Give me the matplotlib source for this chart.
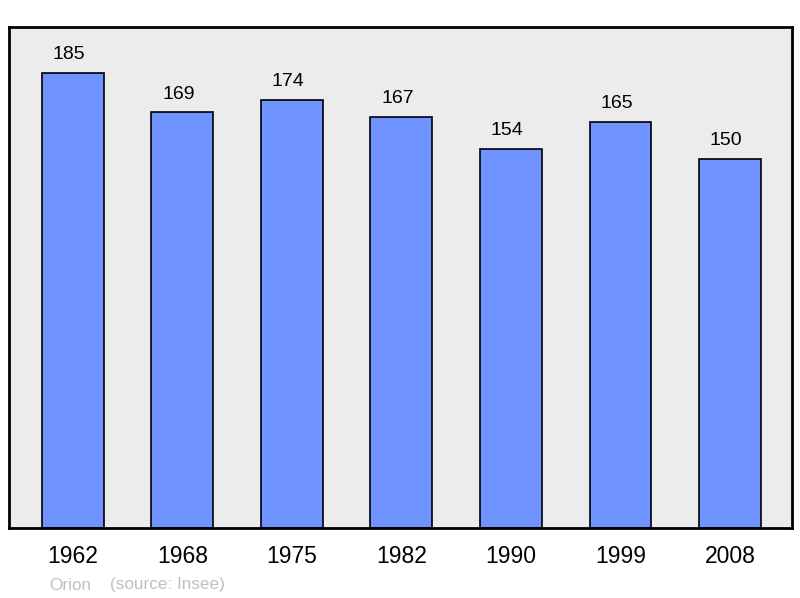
import matplotlib
matplotlib.use('Agg')
import matplotlib.pyplot as plt

plt.rcParams['font.family'] = ['Liberation Sans', 'DejaVu Sans']

# Données
annees = ['1962', '1968', '1975', '1982', '1990', '1999', '2008']
population = [185, 169, 174, 167, 154, 165, 150]

fig = plt.figure(figsize=(8, 5.98), dpi=100)
ax = fig.add_axes([0.01125, 0.117, 0.97875, 0.838])
ax.set_facecolor('#ececec')

x = range(len(annees))
ax.bar(x, population, width=0.566, color='#7094ff', edgecolor='black', linewidth=1.2, zorder=2)

# valeurs au-dessus des barres
for xi, v in zip(x, population):
    ax.annotate(str(v), (xi, v), xytext=(-3, 7), textcoords='offset points',
                ha='center', va='bottom', fontsize=14)

ax.set_xlim(-0.584, 6.566)
ax.set_ylim(0, 203.7)
ax.set_yticks([])
ax.set_xticks(list(x))
ax.set_xticklabels(annees, fontsize=16.5)
ax.tick_params(axis='x', length=0, pad=12)
for s in ax.spines.values():
    s.set_linewidth(2)
    s.set_color('black')

fig.text(49/800, 1 - 585/598, 'Orion', color='#c0c0c0', fontsize=12.3, va='center', ha='left')
fig.text(110/800, 1 - 585/598, '(source: Insee)', color='#c0c0c0', fontsize=12.3, va='center', ha='left')

fig.savefig('out.png', dpi=100)
